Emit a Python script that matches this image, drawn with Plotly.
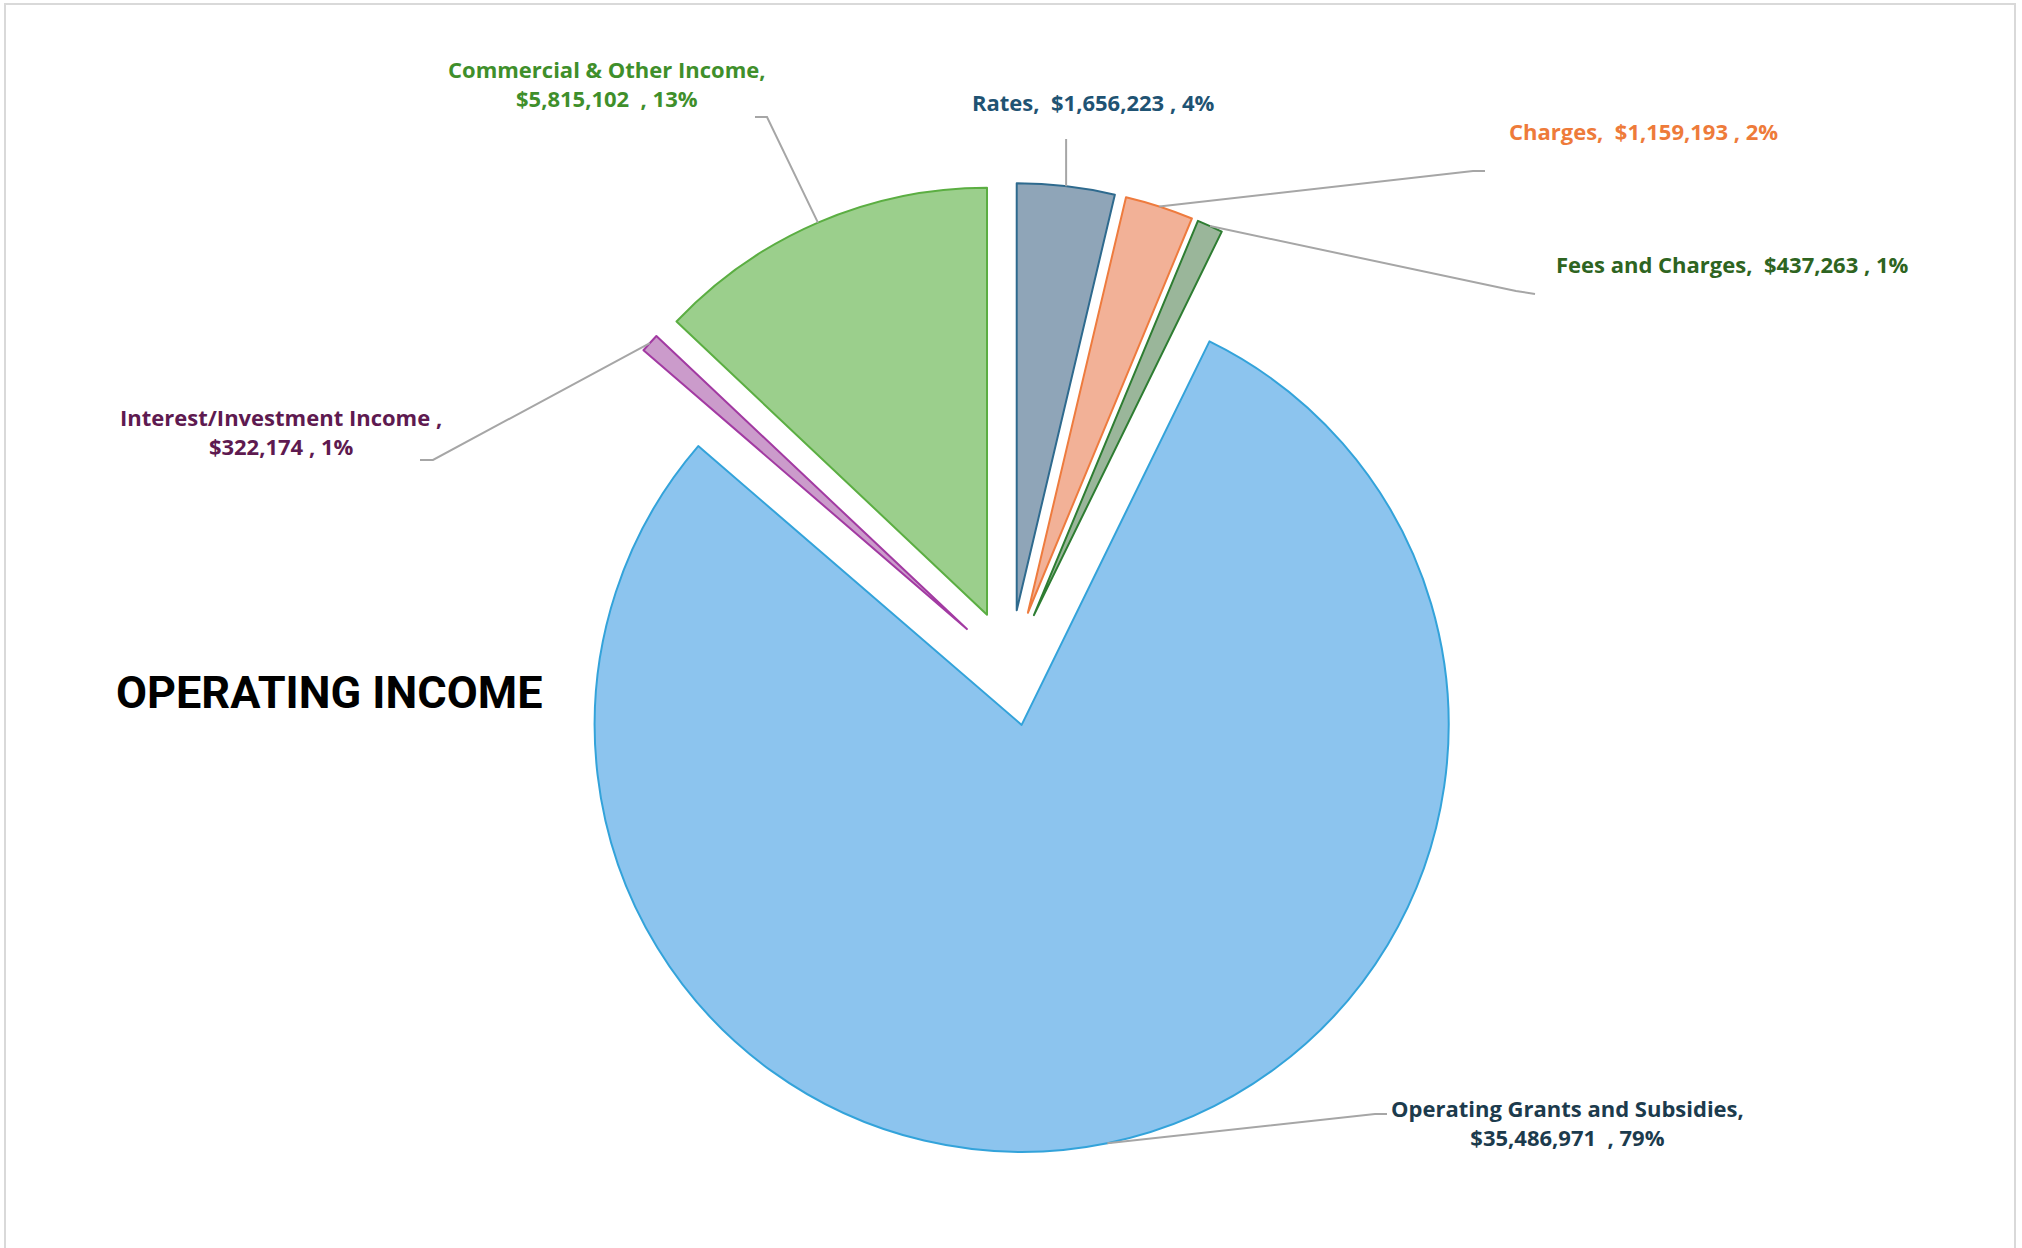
import math
import plotly.graph_objects as go

# ---------------- data ----------------
categories = ["Rates", "Charges", "Fees and Charges", "Operating Grants and Subsidies",
              "Interest/Investment Income", "Commercial & Other Income"]
values = [1656223, 1159193, 437263, 35486971, 322174, 5815102]
pct_labels = ["4%", "2%", "1%", "79%", "1%", "13%"]
label_text = [
    "Rates,  $1,656,223 , 4%",
    "Charges,  $1,159,193 , 2%",
    "Fees and Charges,  $437,263 , 1%",
    "Operating Grants and Subsidies,<br>$35,486,971  , 79%",
    "Interest/Investment Income ,<br>$322,174 , 1%",
    "Commercial & Other Income,<br>$5,815,102  , 13%",
]

# ---------------- styles ----------------
fill_colors = ["#8FA5B8", "#F2B197", "#9AB69A", "#8CC4EE", "#CB9BCB", "#9BCF8C"]
line_colors = ["#2E6A8E", "#EE7B3E", "#2E7D32", "#33A3DA", "#A23AA2", "#5BAE42"]
text_colors = ["#1F5373", "#EE7B3A", "#2E6421", "#1C3B4D", "#5E1A50", "#3F8F2B"]

W, H = 2022, 1248
FONT = "Open Sans"
PULL = 0.136
R = 427.0
CX, CY = 1010.0, 668.0
HALF = R * (1 + PULL)

# label placement (pixels) : text centre and leader-line label-side points
label_pos = [(1093, 102), (1643, 131), (1732, 264), (1567, 1122), (281, 431), (607, 84)]
leader_start = [
    None,                               # Rates: vertical line
    [(1485, 171), (1473, 171)],
    [(1535, 294), (1516, 291)],
    [(1387, 1114), (1375, 1114)],
    [(420, 460), (433, 460)],
    [(755, 117), (767, 117)],
]


def px(x):
    return x / W


def py(y):
    return 1 - y / H


fig = go.Figure()
fig.add_trace(go.Pie(
    labels=categories,
    values=values,
    sort=False,
    direction="clockwise",
    rotation=0,
    pull=[PULL] * len(values),
    textinfo="none",
    hoverinfo="skip",
    marker=dict(colors=fill_colors, line=dict(color=line_colors, width=2)),
    domain=dict(x=[px(CX - HALF), px(CX + HALF)], y=[py(CY + HALF), py(CY - HALF)]),
    showlegend=False,
))

total = sum(values)
cum = 0.0
shapes = []
annotations = []
for i, v in enumerate(values):
    s = cum / total
    cum += v
    e = cum / total
    th = 2 * math.pi * (s + e) / 2
    dx, dy = math.sin(th), -math.cos(th)
    ax_ = CX + (1 + PULL) * R * dx
    ay_ = CY + (1 + PULL) * R * dy
    if leader_start[i] is None:
        pts = [(ax_, 139), (ax_, ay_)]
    else:
        pts = leader_start[i] + [(ax_, ay_)]
    path = "M " + " L ".join(f"{px(x):.5f},{py(y):.5f}" for x, y in pts)
    shapes.append(dict(type="path", xref="paper", yref="paper", path=path,
                       line=dict(color="#A6A6A6", width=2)))
    lx, ly = label_pos[i]
    annotations.append(dict(
        x=px(lx), y=py(ly), xref="paper", yref="paper", showarrow=False,
        text=f"<b>{label_text[i]}</b>", xanchor="center", yanchor="middle",
        align="center", font=dict(family=FONT, size=22, color=text_colors[i]),
    ))

annotations.append(dict(
    x=px(329), y=py(692), xref="paper", yref="paper", showarrow=False,
    text="<b>OPERATING INCOME</b>", xanchor="center", yanchor="middle",
    font=dict(family="Roboto", size=45, color="#000000"),
))

# chart border
shapes.append(dict(type="rect", xref="paper", yref="paper",
                   x0=px(5), x1=px(2015), y0=py(1260), y1=py(4),
                   line=dict(color="#D9D9D9", width=2), fillcolor="rgba(0,0,0,0)"))

fig.update_layout(
    width=W, height=H,
    margin=dict(l=0, r=0, t=0, b=0),
    paper_bgcolor="white", plot_bgcolor="white",
    shapes=shapes, annotations=annotations,
)

fig.write_html("out.html", config={"displayModeBar": False},
               post_script="document.body.style.margin='0';document.body.style.padding='0';")
